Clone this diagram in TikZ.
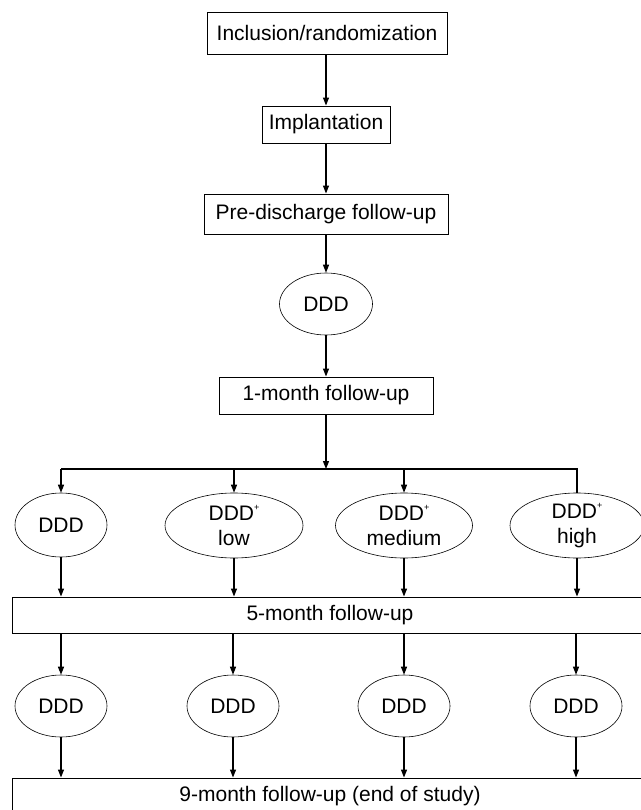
\documentclass[tikz,border=0pt]{standalone}
\usepackage{fontspec}
\setmainfont{Liberation Sans}
\usetikzlibrary{arrows.meta,shapes.geometric}
\newcommand{\tplus}{\raisebox{0.5em}{\fontsize{9}{9}\selectfont +}}
\begin{document}
\begin{tikzpicture}[x=1pt,y=-1pt,
  txt/.style={font=\fontsize{21}{25}\selectfont},
  box/.style={txt, draw, line width=0.9pt, rectangle, inner sep=0pt},
  oval/.style={txt, draw, line width=0.6pt, ellipse, inner sep=0pt, align=center},
  conn/.style={line width=1.2pt, -{Triangle[length=8pt,width=6pt]}},
  plain/.style={line width=1.2pt}]
\useasboundingbox (0,0) rectangle (640,810);
% top chain
\node[box, minimum width=240pt, minimum height=42pt] (inc) at (327,33) {Inclusion/randomization};
\node[box, minimum width=128pt, minimum height=37pt] (imp) at (326,124.5) {Implantation};
\node[box, minimum width=244pt, minimum height=40pt] (pre) at (326,214) {Pre-discharge follow-up};
\node[oval, minimum width=93pt, minimum height=62pt] (d0) at (326,304) {DDD};
\node[box, minimum width=214pt, minimum height=37pt] (m1) at (326,395.5) {1-month follow-up};
\draw[conn] (inc.south -| imp.north) -- (imp.north);
\draw[conn] (imp) -- (pre);
\draw[conn] (pre) -- (d0);
\draw[conn] (d0) -- (m1);
% branch
\coordinate (j) at (326,469);
\coordinate (jl) at (61,469);
\coordinate (jr) at (577,469);
\draw[conn] (m1.south) -- (j);
% row 1
\node[oval, minimum width=92pt, minimum height=64pt] (a1) at (61,525) {DDD};
\node[oval, minimum width=138pt, minimum height=65pt] (a2) at (234,525.5) {DDD\tplus\\low};
\node[oval, minimum width=137pt, minimum height=65pt] (a3) at (404,525.5) {DDD\tplus\\medium};
\node[oval, minimum width=134pt, minimum height=65pt] (a4) at (577,525.5) {DDD\tplus\\high};
\draw[plain] (jl) -- (jr) -- (a4.north);
\draw[conn] (jl) -- (a1.north);
\draw[conn] (a2.north |- j) -- (a2.north);
\draw[conn] (a3.north |- j) -- (a3.north);
% 5-month
\node[box, minimum width=636pt, minimum height=36pt] (m5) at (330,615) {5-month follow-up};
\foreach \i in {1,...,4} \draw[conn] (a\i.south) -- (a\i.south |- m5.north);
% row 2
\node[oval, minimum width=92pt, minimum height=62pt] (b1) at (61,706) {DDD};
\node[oval, minimum width=92pt, minimum height=62pt] (b2) at (233,706) {DDD};
\node[oval, minimum width=92pt, minimum height=62pt] (b3) at (404,706) {DDD};
\node[oval, minimum width=92pt, minimum height=62pt] (b4) at (576,706) {DDD};
\foreach \i in {1,...,4} \draw[conn] (b\i.north |- m5.south) -- (b\i.north);
% 9-month
\node[box, minimum width=636pt, minimum height=36pt] (m9) at (330,796) {9-month follow-up (end of study)};
\foreach \i in {1,...,4} \draw[conn] (b\i.south) -- (b\i.south |- m9.north);
\end{tikzpicture}
\end{document}
